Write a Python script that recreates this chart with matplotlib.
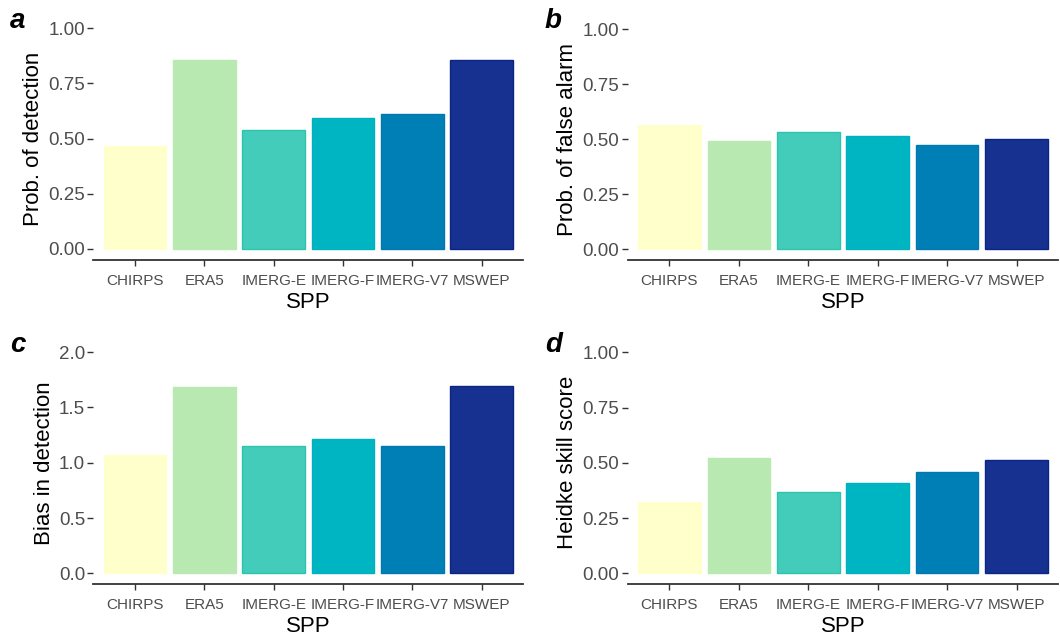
import numpy as np
import matplotlib
matplotlib.use("Agg")
import matplotlib.pyplot as plt
from matplotlib import font_manager

plt.rcParams['font.family'] = ['Liberation Sans', 'DejaVu Sans']

spp = ['CHIRPS', 'ERA5', 'IMERG-E', 'IMERG-F', 'IMERG-V7', 'MSWEP']
fill_cols = ['#FFFFCC', '#B8E9B1', '#43CCB9', '#00B5C2', '#007FB6', '#16318F']
edge_cols = ['#FFFFCC', '#B8E9B1', '#2CC4AE', '#00B0BE', '#0078B0', '#0B2585']

pod = [0.467, 0.855, 0.540, 0.591, 0.611, 0.855]
far = [0.563, 0.493, 0.534, 0.514, 0.473, 0.499]
bias = [1.069, 1.684, 1.150, 1.211, 1.152, 1.696]
hss = [0.324, 0.522, 0.367, 0.409, 0.457, 0.513]

# narrow face for the category labels if available
names = {f.name for f in font_manager.fontManager.ttflist}
narrow = 'Liberation Sans Narrow' if 'Liberation Sans Narrow' in names else 'Liberation Sans'
xt_size = 12.7 if narrow == 'Liberation Sans Narrow' else 11

W, H = 1060, 641
fig = plt.figure(figsize=(W / 100, H / 100), dpi=100)

def px_axes(left, right, top, bottom):
    return fig.add_axes([left / W, 1 - bottom / H, (right - left) / W, (bottom - top) / H])

panels = [
    ('a', pod, 'Prob. of detection', [0, 0.25, 0.5, 0.75, 1.0], '{:.2f}', (93.4, 523.3, 17.0, 260.0)),
    ('b', far, 'Prob. of false alarm', [0, 0.25, 0.5, 0.75, 1.0], '{:.2f}', (627.6, 1058.4, 18.3, 260.0)),
    ('c', bias, 'Bias in detection', [0, 0.5, 1.0, 1.5, 2.0], '{:.1f}', (93.4, 523.3, 341.0, 584.4)),
    ('d', hss, 'Heidke skill score', [0, 0.25, 0.5, 0.75, 1.0], '{:.2f}', (627.6, 1058.4, 341.3, 584.4)),
]

tick_grey = '#4D4D4D'
line_grey = '#333333'

for tag, vals, ylab, yt, fmt, box in panels:
    ax = px_axes(*box)
    x = np.arange(1, len(spp) + 1)
    ax.bar(x, vals, width=0.9, color=fill_cols, edgecolor=edge_cols, linewidth=1.0)
    top = yt[-1]
    ax.set_xlim(0.4, len(spp) + 0.6)
    ax.set_ylim(-0.05 * top, 1.05 * top)
    ax.set_xticks(x)
    ax.set_xticklabels(spp, fontsize=xt_size, color=tick_grey, family=narrow)
    ax.set_yticks(yt)
    ax.set_yticklabels([fmt.format(v) for v in yt], fontsize=13.5, color=tick_grey)
    for s in ['top', 'right', 'left']:
        ax.spines[s].set_visible(False)
    ax.spines['bottom'].set_color(line_grey)
    ax.spines['bottom'].set_linewidth(1.3)
    ax.tick_params(axis='both', colors=line_grey, width=1.0, length=4, labelcolor=tick_grey)
    ax.tick_params(axis='x', pad=6)
    ax.tick_params(axis='y', pad=2)
    ax.set_xlabel('SPP', fontsize=16, labelpad=3)
    ax.set_ylabel(ylab, fontsize=16, labelpad=3)
    lx = 10 if box[0] < 500 else 545
    ly = 28 if box[2] < 200 else 352
    fig.text(lx / W, 1 - ly / H, tag, fontsize=20, fontweight='bold', fontstyle='italic',
             ha='left', va='baseline')

fig.savefig('out.png', dpi=100, facecolor='white')
